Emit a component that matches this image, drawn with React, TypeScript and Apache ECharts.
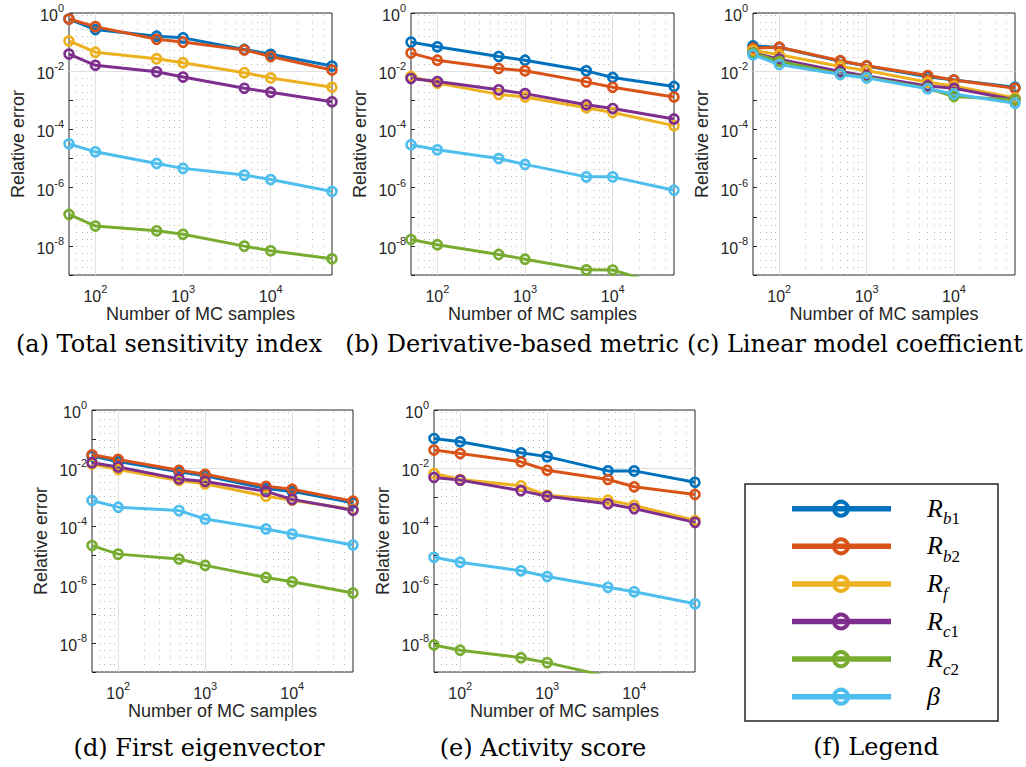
import React, { useEffect, useRef } from "react";
import * as echarts from "echarts";

// ---------------- data ----------------
const samples = [50, 100, 500, 1000, 5000, 10000, 50000];
const seriesNames = ["R_b1", "R_b2", "R_f", "R_c1", "R_c2", "beta"];
const seriesColors = ["#0072BD", "#D95319", "#EDB120", "#7E2F8E", "#77AC30", "#4DBEEE"];
const legendLabels = [
  "{r|R}{si|b}{su|1}",
  "{r|R}{si|b}{su|2}",
  "{r|R}{si|f}",
  "{r|R}{si|c}{su|1}",
  "{r|R}{si|c}{su|2}",
  "{r|β}",
];

// order of rows: Rb1, Rb2, Rf, Rc1, Rc2, beta
const totalSensitivityIndex = [
  [0.62, 0.27, 0.16, 0.14, 0.056, 0.038, 0.015],
  [0.62, 0.34, 0.125, 0.1, 0.054, 0.032, 0.011],
  [0.11, 0.045, 0.027, 0.0196, 0.0089, 0.0059, 0.0028],
  [0.039, 0.016, 0.0096, 0.0063, 0.0026, 0.0019, 0.00089],
  [1.2e-7, 4.8e-8, 3.3e-8, 2.5e-8, 9.8e-9, 6.8e-9, 3.6e-9],
  [3.2e-5, 1.7e-5, 6.8e-6, 4.6e-6, 2.7e-6, 1.9e-6, 7.4e-7],
];
const derivativeBasedMetric = [
  [0.1, 0.069, 0.032, 0.024, 0.0103, 0.0061, 0.003],
  [0.042, 0.024, 0.0124, 0.0103, 0.0043, 0.0028, 0.0013],
  [0.0066, 0.0039, 0.0016, 0.0013, 0.00056, 0.00038, 0.000135],
  [0.0056, 0.0044, 0.0023, 0.0017, 0.0007, 0.00052, 0.00023],
  [1.65e-8, 1.1e-8, 5.1e-9, 3.5e-9, 1.5e-9, 1.48e-9, 3.5e-10],
  [3.0e-5, 2.0e-5, 1.0e-5, 6.3e-6, 2.35e-6, 2.35e-6, 8.2e-7],
];
const linearModelCoefficient = [
  [0.075, 0.065, 0.022, 0.015, 0.0065, 0.005, 0.0028],
  [0.062, 0.067, 0.023, 0.0154, 0.0071, 0.005, 0.0026],
  [0.052, 0.037, 0.0146, 0.0106, 0.0042, 0.0031, 0.0012],
  [0.042, 0.026, 0.0098, 0.0069, 0.0031, 0.0026, 0.00104],
  [0.042, 0.022, 0.0081, 0.0062, 0.0026, 0.00135, 0.00104],
  [0.037, 0.017, 0.0077, 0.0059, 0.0025, 0.00166, 0.0008],
];
const firstEigenvector = [
  [0.026, 0.017, 0.0075, 0.0055, 0.002, 0.0016, 0.00065],
  [0.029, 0.02, 0.0085, 0.0062, 0.0024, 0.0019, 0.00074],
  [0.014, 0.009, 0.0038, 0.0029, 0.0011, 0.0008, 0.00038],
  [0.0155, 0.011, 0.0043, 0.0035, 0.0016, 0.00085, 0.00036],
  [2.2e-5, 1.12e-5, 7.6e-6, 4.6e-6, 1.77e-6, 1.25e-6, 5.2e-7],
  [7.8e-4, 4.6e-4, 3.5e-4, 1.8e-4, 8.2e-5, 5.5e-5, 2.3e-5],
];
const activityScore = [
  [0.105, 0.081, 0.034, 0.025, 0.0081, 0.0081, 0.0033],
  [0.042, 0.032, 0.0166, 0.0085, 0.0041, 0.0023, 0.00126],
  [0.0066, 0.0041, 0.0025, 0.00117, 0.0008, 0.00053, 0.00016],
  [0.0048, 0.0039, 0.0017, 0.00108, 0.0006, 0.00041, 0.000138],
  [8.5e-9, 5.6e-9, 3.1e-9, 2.1e-9, 7e-10, 5e-10, 2e-10],
  [8.7e-6, 5.9e-6, 3.0e-6, 1.9e-6, 8.1e-7, 5.7e-7, 2.2e-7],
];

const xMajorGrid = [100, 1000, 10000];
const xMinorGrid = [
  60, 70, 80, 90, 200, 300, 400, 500, 600, 700, 800, 900,
  2000, 3000, 4000, 5000, 6000, 7000, 8000, 9000, 20000, 30000, 40000,
];
const yMajorGrid = [1e-8, 1e-6, 1e-4, 1e-2];

// ---------------- layout ----------------
const panels = [
  { values: totalSensitivityIndex, caption: "(a) Total sensitivity index", left: 69, top: 13, width: 263, height: 262, capX: 169, capY: 344 },
  { values: derivativeBasedMetric, caption: "(b) Derivative-based metric", left: 411, top: 13, width: 263, height: 262, capX: 512, capY: 344 },
  { values: linearModelCoefficient, caption: "(c) Linear model coefficient", left: 753, top: 13, width: 262, height: 262, capX: 855, capY: 344 },
  { values: firstEigenvector, caption: "(d) First eigenvector", left: 92, top: 410, width: 261, height: 262, capX: 199, capY: 748 },
  { values: activityScore, caption: "(e) Activity score", left: 434, top: 410, width: 261, height: 262, capX: 543, capY: 748 },
];

const AXIS_COLOR = "#262626";
const SANS = "Liberation Sans";
const SERIF = "DejaVu Serif";

const powRich = {
  b: { fontSize: 16, fontFamily: SANS, color: AXIS_COLOR, lineHeight: 21, verticalAlign: "bottom" },
  s: { fontSize: 11, fontFamily: SANS, color: AXIS_COLOR, lineHeight: 7, verticalAlign: "top" },
};

function powLabel(v: number, step: number): string {
  const lg = Math.log10(v);
  const e = Math.round(lg);
  if (Math.abs(lg - e) > 1e-6) return "";
  if (e % step !== 0) return "";
  return `{b|10}{s|${e}}`;
}

function buildOption() {
  const grid: any[] = [];
  const xAxis: any[] = [];
  const yAxis: any[] = [];
  const series: any[] = [];
  const graphic: any[] = [];

  panels.forEach((p, i) => {
    grid.push({
      left: p.left, top: p.top, width: p.width, height: p.height,
      show: true, borderColor: AXIS_COLOR, borderWidth: 1, backgroundColor: "#ffffff",
    });
    xAxis.push({
      type: "log", logBase: 10, gridIndex: i, min: 50, max: 50000,
      name: "Number of MC samples", nameLocation: "middle", nameGap: 30,
      nameTextStyle: { fontFamily: SANS, fontSize: 18, color: AXIS_COLOR },
      axisLine: { show: false },
      axisTick: { show: true, inside: true, length: 4, lineStyle: { color: AXIS_COLOR, width: 1 } },
      axisLabel: {
        margin: 8, showMinLabel: false, showMaxLabel: false,
        formatter: (v: number) => powLabel(v, 1), rich: powRich,
      },
      splitLine: { show: false },
    });
    yAxis.push({
      type: "log", logBase: 10, gridIndex: i, min: 1e-9, max: 1,
      name: "Relative error", nameLocation: "middle", nameGap: 42,
      nameTextStyle: { fontFamily: SANS, fontSize: 18, color: AXIS_COLOR },
      axisLine: { show: false },
      axisTick: { show: true, inside: true, length: 4, lineStyle: { color: AXIS_COLOR, width: 1 } },
      axisLabel: {
        margin: 5, formatter: (v: number) => powLabel(v, 2), rich: powRich,
      },
      splitLine: { show: false },
    });

    const majorStyle = { color: "#e0e0e0", width: 1, type: "solid" };
    const minorStyle = { color: "#b5b5b5", width: 1, type: [1, 6] };
    series.push({
      type: "line", xAxisIndex: i, yAxisIndex: i, data: [], silent: true, z: 1,
      markLine: {
        silent: true, z: 1, symbol: ["none", "none"], label: { show: false },
        emphasis: { disabled: true },
        data: [
          ...xMinorGrid.map((v) => ({ xAxis: v, lineStyle: minorStyle })),
          ...xMajorGrid.map((v) => ({ xAxis: v, lineStyle: majorStyle })),
          ...yMajorGrid.map((v) => ({ yAxis: v, lineStyle: majorStyle })),
        ],
      },
    });

    p.values.forEach((vals, k) => {
      series.push({
        name: seriesNames[k], type: "line", xAxisIndex: i, yAxisIndex: i, z: 3,
        data: samples.map((x, j) => [x, vals[j]]),
        clip: true, symbol: "circle", symbolSize: 9, showSymbol: true,
        lineStyle: { color: seriesColors[k], width: 3 },
        itemStyle: { color: "rgba(255,255,255,0)", borderColor: seriesColors[k], borderWidth: 2.6 },
      });
    });

    graphic.push({
      type: "text", x: p.capX, y: p.capY,
      style: {
        text: p.caption, fontFamily: SERIF, fontSize: 24, fill: "#000",
        align: "center", verticalAlign: "middle", textAlign: "center", textVerticalAlign: "middle",
      },
    });
  });

  // legend panel (f)
  graphic.push({
    type: "rect", shape: { x: 745, y: 484, width: 253, height: 237 },
    style: { fill: "#ffffff", stroke: AXIS_COLOR, lineWidth: 1.5 },
  });
  seriesColors.forEach((c, k) => {
    const y = 508.7 + k * 37.6;
    graphic.push({
      type: "line", shape: { x1: 792, y1: y, x2: 891, y2: y },
      style: { stroke: c, lineWidth: 5.5 },
    });
    graphic.push({
      type: "circle", shape: { cx: 841, cy: y, r: 7 },
      style: { fill: "none", stroke: c, lineWidth: 4 },
    });
    graphic.push({
      type: "text", x: 927, y: y + 2.5,
      style: {
        text: legendLabels[k],
        align: "left", verticalAlign: "middle", textAlign: "left", textVerticalAlign: "middle",
        rich: {
          r: { fontFamily: "Liberation Serif", fontStyle: "italic", fontSize: 26, lineHeight: 32, verticalAlign: "top", fill: "#000", color: "#000" },
          si: { fontFamily: "Liberation Serif", fontStyle: "italic", fontSize: 17, lineHeight: 8, verticalAlign: "bottom", fill: "#000", color: "#000" },
          su: { fontFamily: "Liberation Serif", fontSize: 17, lineHeight: 8, verticalAlign: "bottom", fill: "#000", color: "#000" },
        },
      },
    });
  });
  graphic.push({
    type: "text", x: 876, y: 747,
    style: {
      text: "(f) Legend", fontFamily: SERIF, fontSize: 24, fill: "#000",
      align: "center", verticalAlign: "middle", textAlign: "center", textVerticalAlign: "middle",
    },
  });

  return {
    animation: false,
    backgroundColor: "#ffffff",
    grid, xAxis, yAxis, series, graphic,
  };
}

export default function App() {
  const ref = useRef<HTMLDivElement>(null);
  useEffect(() => {
    if (!ref.current) return;
    const chart = echarts.init(ref.current, undefined, { renderer: "svg" });
    chart.setOption(buildOption() as any);
    return () => chart.dispose();
  }, []);
  return (
    <div
      ref={ref}
      style={{ position: "fixed", left: 0, top: 0, width: 1026, height: 767, background: "#ffffff" }}
    />
  );
}
